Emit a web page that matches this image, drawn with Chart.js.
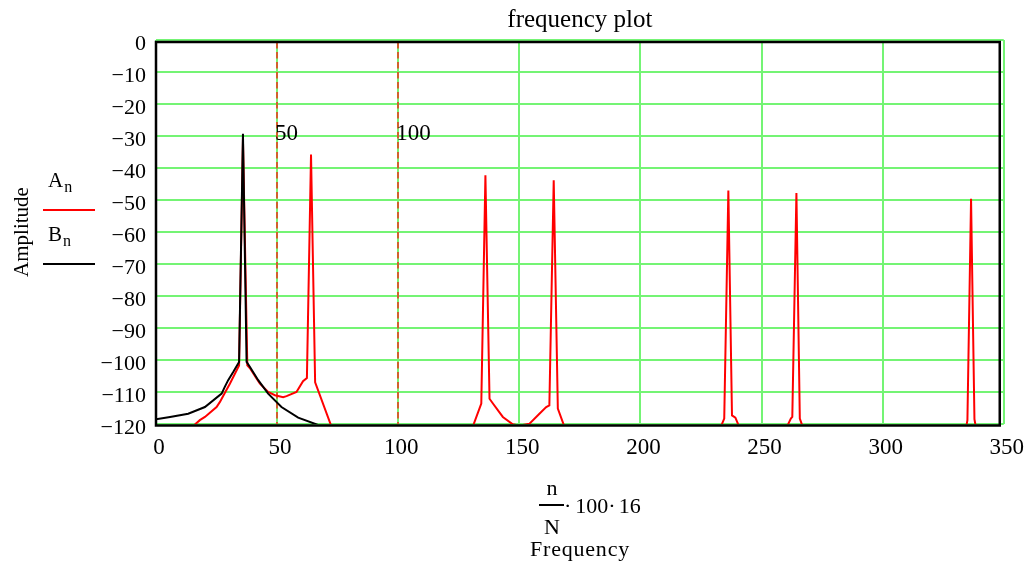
<!DOCTYPE html>
<html>
<head>
<meta charset="utf-8">
<script src="https://cdn.jsdelivr.net/npm/chart.js@4.4.1/dist/chart.umd.min.js"></script>
<style>
  body { margin: 0; background: #fff; }
  #wrap { position: relative; width: 1031px; height: 568px; font-family: 'Liberation Serif', 'Times New Roman', serif; color: #000; }
  #wrap canvas { position: absolute; left: 0; top: 0; }
  .txt { position: absolute; white-space: nowrap; line-height: 1; }
  .sub { font-size: 16px; position: relative; top: 5px; margin-left: 1px; }
  .key { position: absolute; width: 52px; height: 2px; }
</style>
</head>
<body>
<div id="wrap">
  <canvas id="chart" width="1031" height="568"></canvas>

  <!-- legend -->
  <div class="txt" style="left:48px;top:170px;font-size:21px">A<span class="sub">n</span></div>
  <div class="key" style="left:43px;top:209px;background:#ff0000"></div>
  <div class="txt" style="left:48px;top:224px;font-size:21px">B<span class="sub">n</span></div>
  <div class="key" style="left:43px;top:263px;background:#000"></div>

  <!-- x axis label: n/N·100·16, Frequency -->
  <div class="txt" style="left:540px;top:477px;width:24px;text-align:center;font-size:22px">n</div>
  <div style="position:absolute;left:539px;top:504px;width:25px;height:2px;background:#000"></div>
  <div class="txt" style="left:540px;top:516px;width:24px;text-align:center;font-size:22px">N</div>
  <div class="txt" style="left:564px;top:495px;font-size:22px"><span>·</span><span style="margin-left:4px">100</span><span>·</span><span style="margin-left:3px">16</span></div>
  <div class="txt" style="left:480px;top:538px;width:200px;text-align:center;font-size:22px;letter-spacing:0.8px">Frequency</div>
</div>

<script>
// A_n (red); values below -120 run under the axis
const aFreq = [12.0, 15.4, 18.1, 20.2, 25.0, 26.4, 28.4, 30.5, 34.3, 35.9, 37.7, 38.8, 41.5, 42.9, 46.3, 49.1, 52.5, 53.9, 58.0, 60.7, 62.3, 64.0, 65.7, 74.0,
               129.0, 134.3, 136.0, 137.7, 139.1, 143.2, 147.3, 150.1, 154.2, 158.3, 161.1, 162.4, 164.2, 165.9, 170.0,
               232.0, 234.6, 236.3, 237.8, 239.2, 242.5,
               258.5, 262.1, 262.7, 264.4, 265.8, 268.0,
               333.8, 335.0, 336.5, 337.9, 339.2];
const aAmp  = [-122.5, -120.6, -118.8, -117.8, -114.7, -113.1, -110.3, -107.4, -101.7, -31.0, -101.7, -102.6, -105.8, -107.4, -110.0, -111.0, -111.6, -111.3, -110.0, -106.6, -105.6, -35.8, -107.0, -124.0,
               -124.5, -113.6, -42.3, -112.1, -113.6, -117.8, -120.1, -120.5, -119.9, -116.8, -114.7, -114.2, -43.8, -115.2, -123.7,
               -123.0, -118.3, -47.0, -117.3, -118.0, -124.0,
               -124.0, -118.3, -117.8, -47.8, -118.3, -123.0,
               -124.0, -118.8, -49.6, -118.5, -124.0];

// B_n (black)
const bFreq = [0, 5.8, 13.3, 20.2, 27.1, 28.4, 29.8, 32.0, 34.3, 35.9, 37.4, 38.8, 42.2, 46.3, 51.8, 58.7, 65.5, 68.3, 75.0];
const bAmp  = [-118.5, -117.8, -116.8, -114.7, -110.5, -108.4, -106.3, -103.6, -100.6, -29.3, -100.6, -102.2, -106.3, -110.5, -114.7, -118.0, -119.9, -120.7, -122.5];

// vertical markers
const markerValues = [50, 100];

const toPoints = (xs, ys) => xs.map((x, i) => ({ x: x, y: ys[i] }));
const serif = 'Liberation Serif';

// dashed markers, their labels and the black box round the plot
const plotExtras = {
    id: 'plotExtras',
    beforeDatasetsDraw(chart) {
        const { ctx, chartArea: a, scales: { x } } = chart;
        ctx.save();
        ctx.strokeStyle = '#d0602c';
        ctx.lineWidth = 2;
        ctx.setLineDash([6.5, 3.5]);
        markerValues.forEach(v => {
            const px = Math.round(x.getPixelForValue(v));
            ctx.beginPath();
            ctx.moveTo(px, a.top + 2);
            ctx.lineTo(px, a.bottom);
            ctx.stroke();
        });
        ctx.restore();
    },
    afterDatasetsDraw(chart) {
        const { ctx, chartArea: a, scales: { x } } = chart;
        ctx.save();
        ctx.fillStyle = '#000';
        ctx.font = '23px "' + serif + '"';
        ctx.textBaseline = 'alphabetic';
        ctx.textAlign = 'left';
        markerValues.forEach(v => ctx.fillText(String(v), x.getPixelForValue(v) - 2, a.top + 100));

        ctx.strokeStyle = '#000';
        ctx.lineWidth = 2.5;
        ctx.strokeRect(a.left, a.top + 2, a.right - 4 - a.left, a.bottom + 1.5 - (a.top + 2));
        ctx.restore();
    }
};

new Chart(document.getElementById('chart'), {
    type: 'line',
    data: {
        datasets: [
            {
                label: 'A_n',
                data: toPoints(aFreq, aAmp),
                borderColor: '#ff0000',
                borderWidth: 2,
                pointRadius: 0,
                tension: 0,
                order: 2
            },
            {
                label: 'B_n',
                data: toPoints(bFreq, bAmp),
                borderColor: '#000000',
                borderWidth: 2,
                pointRadius: 0,
                tension: 0,
                order: 1
            }
        ]
    },
    options: {
        responsive: false,
        animation: false,
        events: [],
        layout: { padding: { left: 0, right: 26, top: 0, bottom: 0 } },
        plugins: {
            legend: { display: false },
            tooltip: { enabled: false },
            title: {
                display: true,
                text: 'frequency plot',
                fullSize: false,
                color: '#000',
                font: { family: serif, size: 25, weight: 'normal' },
                padding: { top: 5, bottom: 5 }
            }
        },
        scales: {
            x: {
                type: 'linear',
                min: 0,
                max: 350,
                afterFit: s => { s.height = 144; },
                border: { display: false },
                grid: { color: '#74f474', lineWidth: 2, drawTicks: false },
                ticks: {
                    stepSize: 50,
                    padding: 10,
                    labelOffset: 3,
                    maxRotation: 0,
                    color: '#000',
                    font: { family: serif, size: 23 }
                }
            },
            y: {
                type: 'linear',
                min: -120,
                max: 0,
                afterFit: s => { s.width = 156; },
                border: { display: false },
                grid: { color: '#74f474', lineWidth: 2, drawTicks: false },
                ticks: {
                    stepSize: 10,
                    padding: 10,
                    labelOffset: 4,
                    color: '#000',
                    font: { family: serif, size: 22 },
                    callback: v => v < 0 ? '\u2212' + Math.abs(v) : String(v)
                },
                title: {
                    display: true,
                    text: 'Amplitude',
                    color: '#000',
                    font: { family: serif, size: 21 },
                    padding: { top: 10, bottom: 0 }
                }
            }
        }
    },
    plugins: [plotExtras]
});
</script>
</body>
</html>
